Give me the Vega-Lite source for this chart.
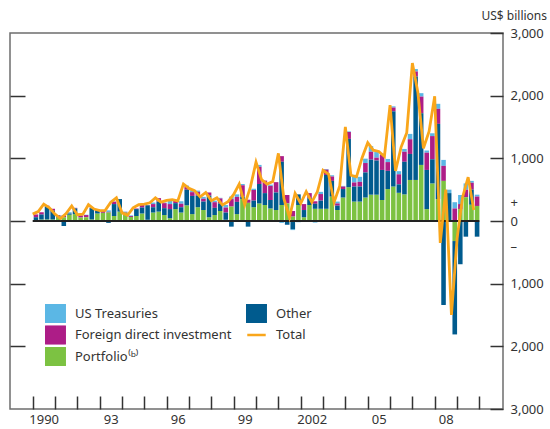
{
  "$schema": "https://vega.github.io/schema/vega-lite/v6.json",
  "width": 493,
  "height": 376,
  "autosize": {"type": "none"},
  "padding": {"left": 10, "top": 33, "right": 47, "bottom": 20},
  "background": "white",
  "config": {
    "view": {"stroke": "#6e6e6e", "strokeWidth": 1.5},
    "font": "Noto Sans",
    "axis": {"labelFont": "Noto Sans", "labelFontSize": 13, "labelColor": "#333333", "tickColor": "#333333", "tickWidth": 1.5, "domain": false, "grid": false},
    "legend": {"labelFont": "Noto Sans", "labelFontSize": 13, "labelColor": "#333333"}
  },
  "data": {"values": [
    {"q": "1990-01-01", "p": 0, "o": 60, "f": 45, "t": 0, "total": 110},
    {"q": "1990-04-01", "p": 25, "o": 80, "f": 35, "t": 0, "total": 150},
    {"q": "1990-07-01", "p": 25, "o": 210, "f": 10, "t": 0, "total": 270},
    {"q": "1990-10-01", "p": 25, "o": 140, "f": 30, "t": 0, "total": 210},
    {"q": "1991-01-01", "p": 55, "o": 30, "f": 10, "t": 0, "total": 110},
    {"q": "1991-04-01", "p": 60, "o": -80, "f": 25, "t": 10, "total": 40},
    {"q": "1991-07-01", "p": 100, "o": 20, "f": 0, "t": 20, "total": 120},
    {"q": "1991-10-01", "p": 110, "o": 90, "f": 10, "t": 0, "total": 240},
    {"q": "1992-01-01", "p": 55, "o": 0, "f": 35, "t": 0, "total": 100},
    {"q": "1992-04-01", "p": 60, "o": 0, "f": 35, "t": 5, "total": 110},
    {"q": "1992-07-01", "p": 25, "o": 180, "f": 10, "t": 0, "total": 260},
    {"q": "1992-10-01", "p": 120, "o": 40, "f": 25, "t": 0, "total": 190},
    {"q": "1993-01-01", "p": 130, "o": 0, "f": 35, "t": 0, "total": 165},
    {"q": "1993-04-01", "p": 135, "o": -30, "f": 10, "t": 25, "total": 170},
    {"q": "1993-07-01", "p": 80, "o": 190, "f": 40, "t": 0, "total": 300},
    {"q": "1993-10-01", "p": 150, "o": 200, "f": 0, "t": 0, "total": 370},
    {"q": "1994-01-01", "p": 135, "o": 0, "f": 10, "t": 5, "total": 130},
    {"q": "1994-04-01", "p": 65, "o": 0, "f": 15, "t": 10, "total": 90},
    {"q": "1994-07-01", "p": 80, "o": 110, "f": 10, "t": 0, "total": 210},
    {"q": "1994-10-01", "p": 120, "o": 95, "f": 45, "t": 0, "total": 260},
    {"q": "1995-01-01", "p": 20, "o": 230, "f": 5, "t": 0, "total": 270},
    {"q": "1995-04-01", "p": 135, "o": 85, "f": 50, "t": 25, "total": 290},
    {"q": "1995-07-01", "p": 150, "o": 160, "f": 55, "t": 0, "total": 370},
    {"q": "1995-10-01", "p": 95, "o": 110, "f": 80, "t": 10, "total": 300},
    {"q": "1996-01-01", "p": 45, "o": 145, "f": 80, "t": 55, "total": 330},
    {"q": "1996-04-01", "p": 190, "o": 95, "f": 45, "t": 10, "total": 340},
    {"q": "1996-07-01", "p": 135, "o": 85, "f": 55, "t": 40, "total": 320},
    {"q": "1996-10-01", "p": 250, "o": 250, "f": 45, "t": 20, "total": 590},
    {"q": "1997-01-01", "p": 110, "o": 290, "f": 60, "t": 30, "total": 520},
    {"q": "1997-04-01", "p": 220, "o": 185, "f": 60, "t": 20, "total": 485},
    {"q": "1997-07-01", "p": 175, "o": 135, "f": 45, "t": 30, "total": 385},
    {"q": "1997-10-01", "p": 60, "o": 345, "f": 50, "t": 0, "total": 455},
    {"q": "1998-01-01", "p": 95, "o": 115, "f": 90, "t": 25, "total": 325},
    {"q": "1998-04-01", "p": 160, "o": 120, "f": 80, "t": 10, "total": 370},
    {"q": "1998-07-01", "p": 20, "o": 115, "f": 80, "t": 40, "total": 255},
    {"q": "1998-10-01", "p": 230, "o": -90, "f": 120, "t": 40, "total": 310},
    {"q": "1999-01-01", "p": 110, "o": 195, "f": 80, "t": 40, "total": 425},
    {"q": "1999-04-01", "p": 350, "o": 40, "f": 180, "t": 20, "total": 590},
    {"q": "1999-07-01", "p": 290, "o": -90, "f": 50, "t": 0, "total": 260},
    {"q": "1999-10-01", "p": 220, "o": 105, "f": 170, "t": 20, "total": 540},
    {"q": "2000-01-01", "p": 280, "o": 310, "f": 275, "t": 30, "total": 940},
    {"q": "2000-04-01", "p": 255, "o": 190, "f": 200, "t": 0, "total": 660},
    {"q": "2000-07-01", "p": 200, "o": 135, "f": 225, "t": 20, "total": 590},
    {"q": "2000-10-01", "p": 175, "o": 280, "f": 165, "t": 0, "total": 630},
    {"q": "2001-01-01", "p": 255, "o": 690, "f": 90, "t": -30, "total": 1080},
    {"q": "2001-04-01", "p": 280, "o": -60, "f": 135, "t": 0, "total": 355},
    {"q": "2001-07-01", "p": 70, "o": -130, "f": 90, "t": -15, "total": 60},
    {"q": "2001-10-01", "p": 255, "o": 170, "f": 0, "t": -20, "total": 440},
    {"q": "2002-01-01", "p": 60, "o": 115, "f": 95, "t": 0, "total": 280},
    {"q": "2002-04-01", "p": 255, "o": 110, "f": 80, "t": 0, "total": 470},
    {"q": "2002-07-01", "p": 195, "o": 80, "f": 40, "t": -25, "total": 300},
    {"q": "2002-10-01", "p": 195, "o": 130, "f": 105, "t": 35, "total": 470},
    {"q": "2003-01-01", "p": 195, "o": 540, "f": 85, "t": 10, "total": 810},
    {"q": "2003-04-01", "p": 390, "o": 250, "f": 70, "t": 20, "total": 750},
    {"q": "2003-07-01", "p": 175, "o": 70, "f": 35, "t": 30, "total": 300},
    {"q": "2003-10-01", "p": 375, "o": 135, "f": 40, "t": 10, "total": 560},
    {"q": "2004-01-01", "p": 540, "o": 770, "f": 110, "t": 10, "total": 1500},
    {"q": "2004-04-01", "p": 310, "o": 240, "f": 65, "t": 120, "total": 730},
    {"q": "2004-07-01", "p": 310, "o": 240, "f": 75, "t": 80, "total": 705},
    {"q": "2004-10-01", "p": 375, "o": 400, "f": 150, "t": 70, "total": 1010},
    {"q": "2005-01-01", "p": 420, "o": 560, "f": 125, "t": 90, "total": 1250},
    {"q": "2005-04-01", "p": 420, "o": 545, "f": 45, "t": 90, "total": 1130},
    {"q": "2005-07-01", "p": 335, "o": 480, "f": 240, "t": 20, "total": 1110},
    {"q": "2005-10-01", "p": 510, "o": 290, "f": 140, "t": 50, "total": 1030},
    {"q": "2006-01-01", "p": 550, "o": 1200, "f": 60, "t": 20, "total": 1850},
    {"q": "2006-04-01", "p": 450, "o": 135, "f": 160, "t": 50, "total": 800},
    {"q": "2006-07-01", "p": 425, "o": 520, "f": 160, "t": 45, "total": 1180},
    {"q": "2006-10-01", "p": 655, "o": 415, "f": 235, "t": 85, "total": 1410},
    {"q": "2007-01-01", "p": 655, "o": 1650, "f": 80, "t": 40, "total": 2520},
    {"q": "2007-04-01", "p": 895, "o": 825, "f": 265, "t": 55, "total": 2050},
    {"q": "2007-07-01", "p": 190, "o": 625, "f": 275, "t": 35, "total": 1160},
    {"q": "2007-10-01", "p": 600, "o": 385, "f": 370, "t": 45, "total": 1430},
    {"q": "2008-01-01", "p": 350, "o": 1200, "f": 240, "t": 80, "total": 1990},
    {"q": "2008-04-01", "p": 640, "o": -1340, "f": 240, "t": 95, "total": -350},
    {"q": "2008-07-01", "p": 0, "o": 445, "f": 0, "t": 55, "total": 500},
    {"q": "2008-10-01", "p": -320, "o": -1490, "f": 200, "t": 100, "total": -1500},
    {"q": "2009-01-01", "p": 190, "o": -690, "f": 80, "t": 145, "total": -280},
    {"q": "2009-04-01", "p": 380, "o": -250, "f": 120, "t": 100, "total": 380},
    {"q": "2009-07-01", "p": 260, "o": 240, "f": 110, "t": 30, "total": 700},
    {"q": "2009-10-01", "p": 240, "o": -250, "f": 150, "t": 30, "total": 175}
  ]},
  "encoding": {
    "x": {
      "field": "q", "type": "temporal", "timeUnit": "utcyearquarter",
      "scale": {"type": "utc", "domain": [{"year": 1988, "month": 12, "date": 26, "utc": true}, {"year": 2011, "month": 1, "date": 22, "utc": true}]},
      "axis": {
        "title": null,
        "values": [
          {"year": 1990, "utc": true}, {"year": 1991, "utc": true}, {"year": 1992, "utc": true}, {"year": 1993, "utc": true},
          {"year": 1994, "utc": true}, {"year": 1995, "utc": true}, {"year": 1996, "utc": true}, {"year": 1997, "utc": true},
          {"year": 1998, "utc": true}, {"year": 1999, "utc": true}, {"year": 2000, "utc": true}, {"year": 2001, "utc": true},
          {"year": 2002, "utc": true}, {"year": 2003, "utc": true}, {"year": 2004, "utc": true}, {"year": 2005, "utc": true},
          {"year": 2006, "utc": true}, {"year": 2007, "utc": true}, {"year": 2008, "utc": true}, {"year": 2009, "utc": true},
          {"year": 2010, "utc": true}
        ],
        "tickSize": -13,
        "labelPadding": 17,
        "labelOffset": 11,
        "labelFlush": false,
        "labelOverlap": false,
        "labelExpr": "(utcyear(datum.value) - 1990) % 3 == 0 && utcyear(datum.value) < 2010 ? ((utcyear(datum.value) == 1990 || utcyear(datum.value) == 2002) ? '' + utcyear(datum.value) : slice('' + utcyear(datum.value), 2)) : ''"
      }
    }
  },
  "layer": [
    {
      "transform": [
        {"fold": ["t", "f", "p", "o"], "as": ["k", "v"]},
        {"calculate": "datum.k == 't' ? 'US Treasuries' : datum.k == 'f' ? 'Foreign direct investment' : datum.k == 'p' ? 'Portfolio' : 'Other'", "as": "series"},
        {"calculate": "indexof(['p', 'o', 'f', 't'], datum.k)", "as": "ord"}
      ],
      "mark": {"type": "bar", "timeUnitBandSize": 0.7},
      "encoding": {
        "y": {
          "field": "v", "type": "quantitative", "stack": "zero",
          "scale": {"domain": [-3000, 3000], "nice": false, "zero": false},
          "axis": {"orient": "left", "title": null, "labels": false, "values": [-2000, -1000, 0, 1000, 2000], "tickSize": -15}
        },
        "order": {"field": "ord", "type": "quantitative"},
        "color": {
          "field": "series", "type": "nominal",
          "scale": {"domain": ["US Treasuries", "Foreign direct investment", "Portfolio", "Other", "Total"], "range": ["#5bb7e5", "#ad1d87", "#7cc242", "#005b8e", "#f9a61b"]},
          "legend": {
            "title": null, "orient": "none", "legendX": 35, "legendY": 271, "columns": 2,
            "columnPadding": 14, "rowPadding": 2.5, "clipHeight": 19, "symbolSize": 340, "symbolType": "square",
            "labelOffset": 9, "padding": 0,
            "labelExpr": "datum.label == 'Portfolio' ? 'Portfolio⁽ᵇ⁾' : datum.label",
            "encode": {
              "symbols": {"update": {
                "shape": {"signal": "datum.value === 'Total' ? 'stroke' : 'square'"},
                "fill": {"signal": "datum.value === 'Total' ? 'transparent' : scale('color', datum.value)"},
                "stroke": {"signal": "datum.value === 'Total' ? '#f9a61b' : 'transparent'"},
                "strokeWidth": {"value": 2.5},
                "opacity": {"value": 1}
              }}
            }
          }
        }
      }
    },
    {
      "data": {"values": [{"a": "1990-01-01", "b": "2010-01-01"}]},
      "mark": {"type": "rule", "color": "#222222", "strokeWidth": 2},
      "encoding": {
        "x": {"field": "a", "type": "temporal", "scale": {"type": "utc"}},
        "x2": {"field": "b"},
        "y": {"datum": 0, "type": "quantitative", "axis": null}
      }
    },
    {
      "mark": {"type": "line", "strokeWidth": 2.8, "timeUnitBandPosition": 0.5, "strokeJoin": "miter"},
      "encoding": {
        "y": {
          "field": "total", "type": "quantitative",
          "axis": {
            "orient": "right", "title": "US$ billions", "titleAngle": 0, "titleX": -22, "titleY": -18,
            "titleAlign": "left", "titleBaseline": "middle", "titleFontSize": 12, "titleFontWeight": "normal",
            "titleColor": "#333333", "titleFont": "Noto Sans",
            "values": [-3000, -2000, -1000, -400, 0, 300, 1000, 2000, 3000],
            "tickSize": -13, "labelPadding": 20, "labelFlush": false, "labelOverlap": false, "labelAlign": "left",
            "tickOpacity": {"condition": {"test": "datum.value == 300 || datum.value == -400", "value": 0}, "value": 1},
            "labelExpr": "datum.value == 300 ? '+' : datum.value == -400 ? '–' : format(abs(datum.value), ',')"
          }
        },
        "color": {"datum": "Total"}
      }
    }
  ],
  "resolve": {"axis": {"y": "independent"}}
}
